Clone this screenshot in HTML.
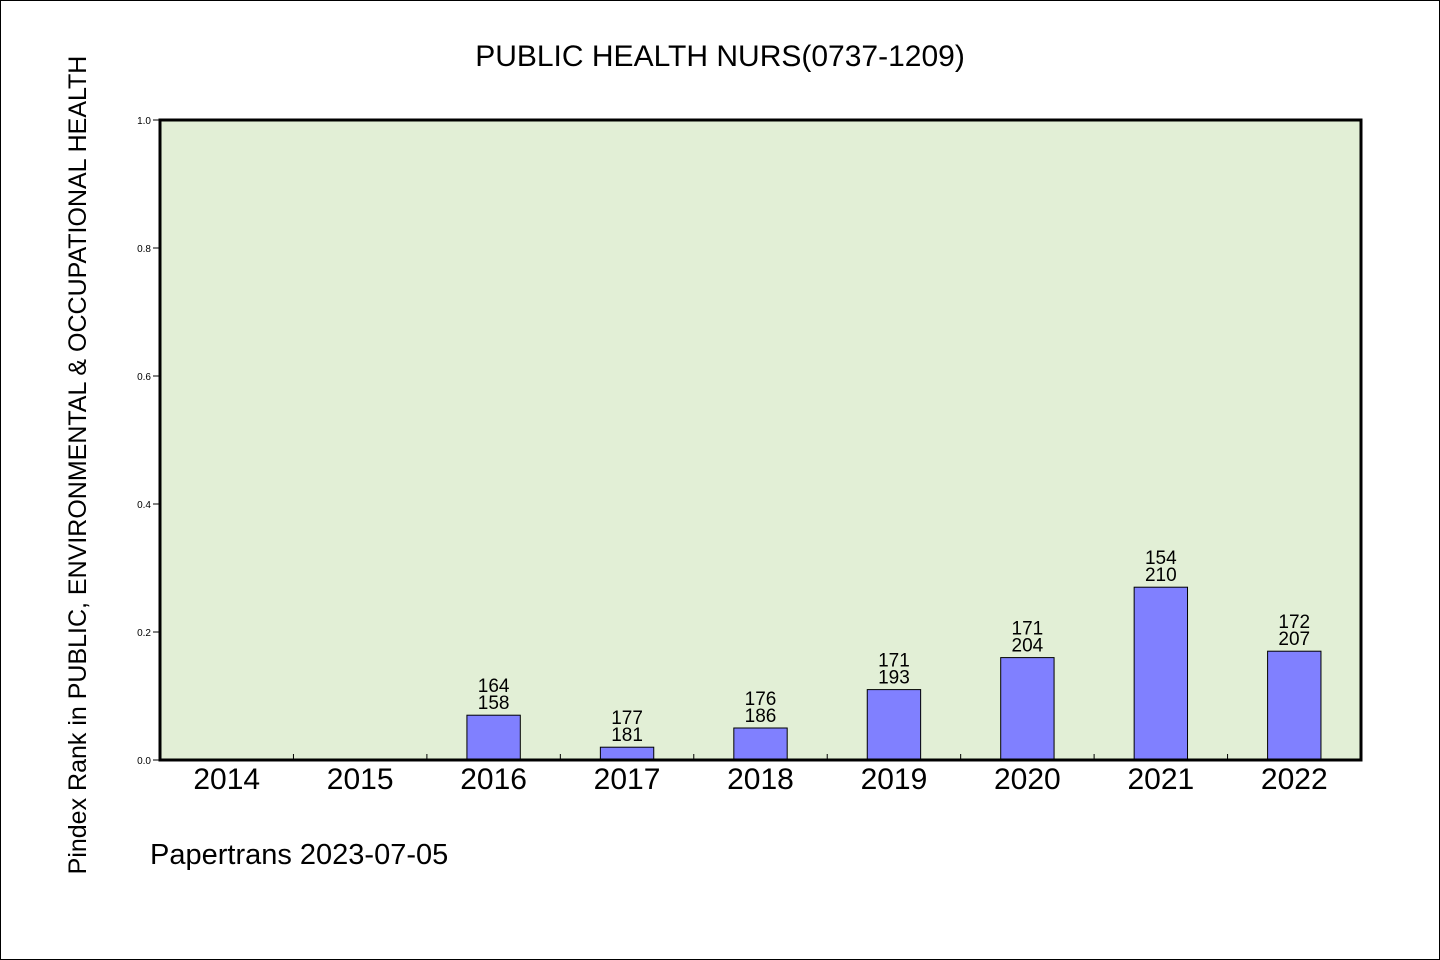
<!DOCTYPE html>
<html><head><meta charset="utf-8"><style>
html,body{margin:0;padding:0;background:#fff}
svg{display:block;font-family:"WenQuanYi Zen Hei","Liberation Sans",sans-serif}
</style></head><body>
<svg id="chart" width="1440" height="960" viewBox="0 0 1440 960">
<rect x="0.5" y="0.5" width="1439" height="959" fill="#fff" stroke="#000"/>
<text x="720" y="66" font-size="30" text-anchor="middle">PUBLIC HEALTH NURS(0737-1209)</text>
<text transform="translate(86,465) rotate(-90)" font-size="25" text-anchor="middle">Pindex Rank in PUBLIC, ENVIRONMENTAL &amp; OCCUPATIONAL HEALTH</text>
<text x="150" y="864" font-size="29">Papertrans 2023-07-05</text>
<rect x="160" y="120" width="1201" height="640" fill="#e2efd6"/>
<g id="marks"></g>
<rect x="160" y="120" width="1201" height="640" fill="none" stroke="#000" stroke-width="3"/>
</svg>
<script>
const categories=["2014","2015","2016","2017","2018","2019","2020","2021","2022"];
const values=[0,0,0.07,0.02,0.05,0.11,0.16,0.27,0.17];
const topLabels=["","","164","177","176","171","171","154","172"];
const bottomLabels=["","","158","181","186","193","204","210","207"];
const yTicks=[0,0.2,0.4,0.6,0.8,1.0];
const yTickLabels=["0.0","0.2","0.4","0.6","0.8","1.0"];
const X0=160,X1=1361,Y0=760,Y1=120;
const band=(X1-X0)/categories.length;
const xc=i=>X0+band*(i+0.5);
const y=v=>Y0-(Y0-Y1)*v;
const g=document.getElementById('marks');
const NS="http://www.w3.org/2000/svg";
function mk(t,a){const e=document.createElementNS(NS,t);for(const k in a)e.setAttribute(k,a[k]);g.appendChild(e);return e;}
yTicks.forEach((v,i)=>{
 const l=mk('line',{x1:153,x2:160,y1:y(v),y2:y(v),stroke:'#000'});
 
 
 const t=mk('text',{x:151,y:y(v)+4,'font-size':10,'text-anchor':'end'});
 t.textContent=yTickLabels[i];
 
 
});
categories.forEach((c,i)=>{
 if(i>0){const l=mk('line',{x1:X0+band*i,x2:X0+band*i,y1:Y0,y2:Y0-6,stroke:'#000'});
 
 }
 const t=mk('text',{x:xc(i),y:789,'font-size':30,'text-anchor':'middle'});
 t.textContent=c;
 
 
 if(values[i]>0){
  const w=band*0.4;
  const b=mk('rect',{x:xc(i)-w/2,y:y(values[i]),width:w,height:Y0-y(values[i]),fill:'#8080ff',stroke:'#000'});
  
  
  const t1=mk('text',{x:xc(i),y:y(values[i])-23,'font-size':19,'text-anchor':'middle'});
  t1.textContent=topLabels[i];
  
  
  const t2=mk('text',{x:xc(i),y:y(values[i])-6,'font-size':19,'text-anchor':'middle'});
  t2.textContent=bottomLabels[i];
  
  
 }
});
</script>
</body></html>
